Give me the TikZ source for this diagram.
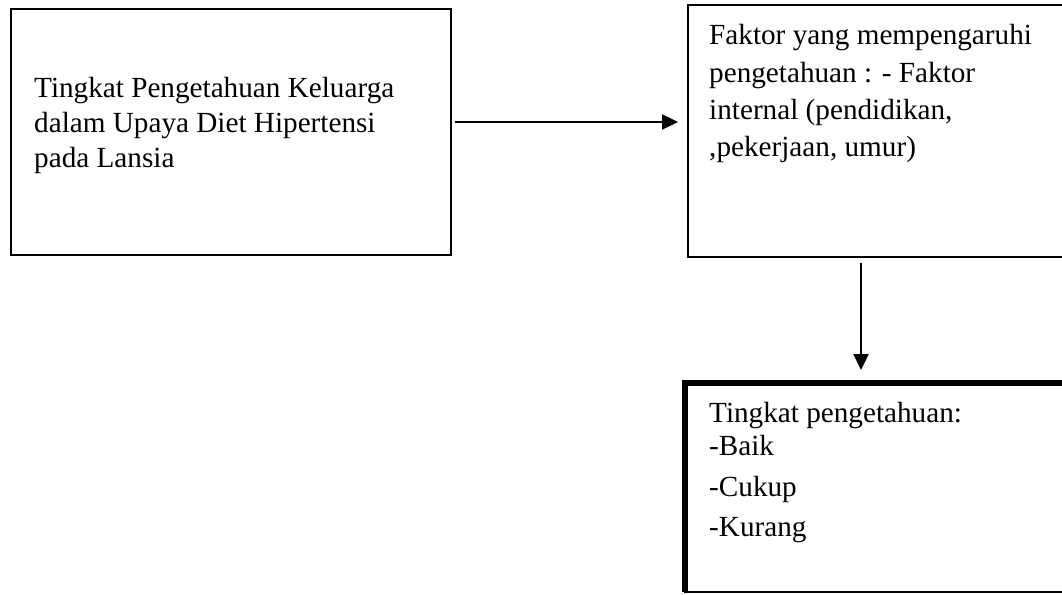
\documentclass[tikz,border=0pt]{standalone}
\usepackage{fontspec}
\setmainfont{Liberation Serif}
\usepackage{tikz}
\usetikzlibrary{arrows.meta, positioning, calc}

\begin{document}
\begin{tikzpicture}[
    x=1pt, y=-1pt,
    line width=2.4pt,
    base/.style={
        draw,
        anchor=north west,
        inner sep=0pt,
        outer sep=0pt,
        minimum width=440pt,
        minimum height=246pt
    },
    concept/.style={base},
    factor/.style={base, minimum width=420pt, minimum height=252pt},
    result/.style={base, minimum width=420pt, minimum height=209pt},
    box_text/.style={anchor=base west, inner sep=0pt, font=\fontsize{29.2}{35}\selectfont},
    arr/.style={-{Triangle[length=16pt, width=15pt]}}
]

    % PAGE
    \path[use as bounding box, fill=white] (0,0) rectangle (1062,594);
    \clip (0,0) rectangle (1062,594);

    % BOXES
    \node[concept] (concept) at (11,9) {};
    \node[box_text] (t_concept) at (concept.north west) [xshift=22pt, yshift=-88pt]
        {\begin{tabular}[t]{@{}l@{}}Tingkat Pengetahuan Keluarga\\ dalam Upaya Diet Hipertensi\\ pada Lansia\end{tabular}};

    \node[factor] (factor) at (688,5) {};
    \node[box_text, font=\fontsize{29.2}{37.2}\selectfont] (t_factor) at (factor.north west) [xshift=20pt, yshift=-40pt]
        {\begin{tabular}[t]{@{}l@{}}Faktor yang mempengaruhi\\ pengetahuan : - Faktor\\ internal (pendidikan,\\ ,pekerjaan, umur)\end{tabular}};

    \node[result] (result) at (685,383) {};
    \draw[line width=6pt] (result.south west) -- (result.north west) -- (result.north east);
    \node[box_text, font=\fontsize{29.2}{33.3}\selectfont] (t_result) at (result.north west) [xshift=23pt, yshift=-39pt]
        {\begin{tabular}[t]{@{}l@{}}Tingkat pengetahuan:\\ -Baik\\[7.5pt] -Cukup\\[6.7pt] -Kurang\end{tabular}};

    % CONNECTORS
    \coordinate (f_out) at ([xshift=173pt]factor.south west);
    \draw[arr, shorten <=4pt, shorten >=10pt] ([yshift=10pt]concept.east) -- ([yshift=10pt]concept.east -| factor.west);
    \draw[arr, shorten <=6pt, shorten >=13pt] (f_out) -- (f_out |- result.north);

\end{tikzpicture}
\end{document}
